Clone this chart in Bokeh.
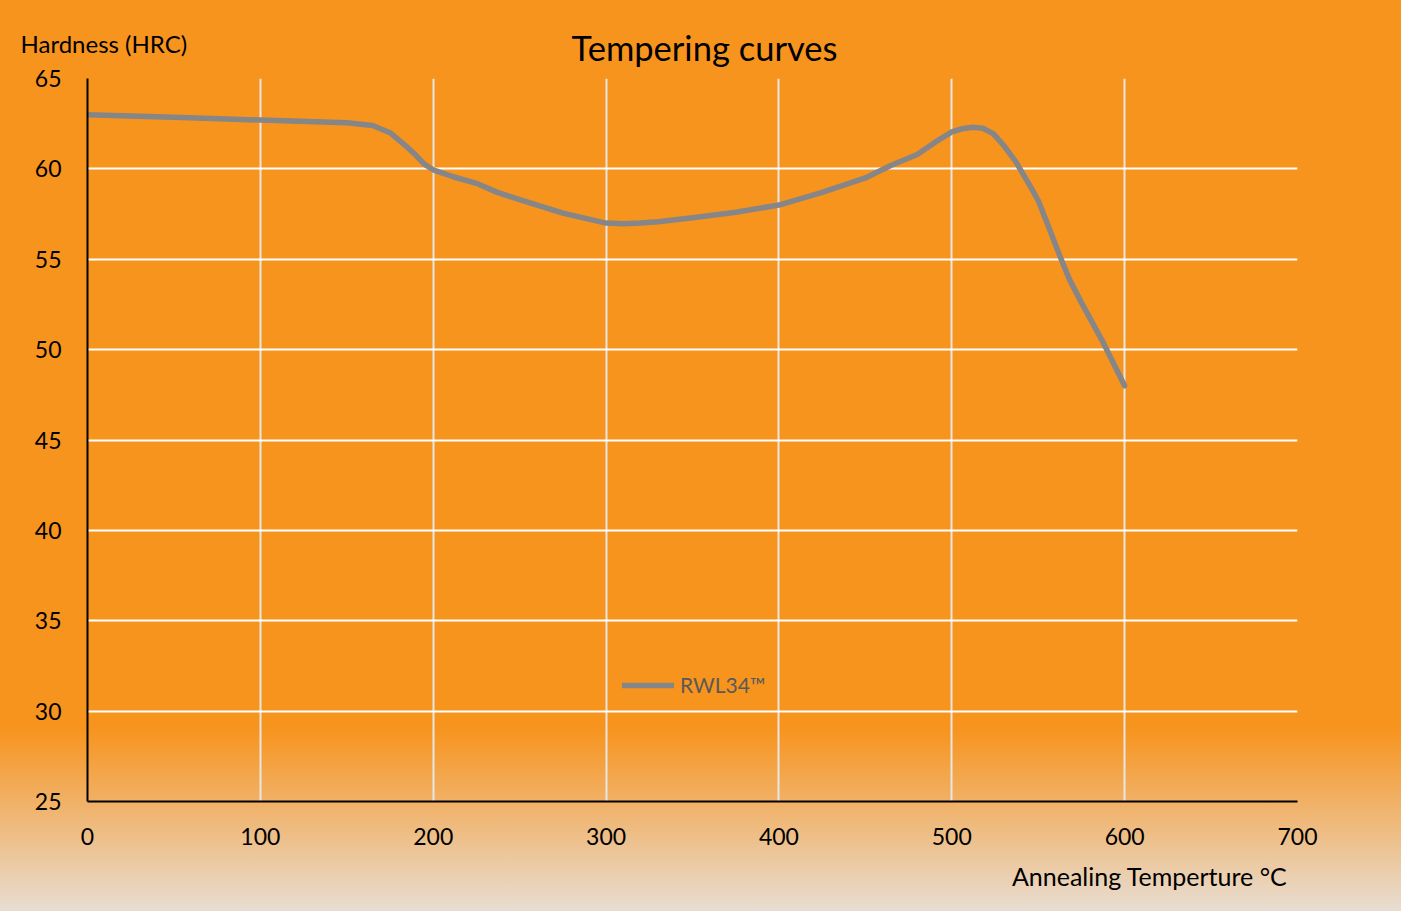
from bokeh.plotting import figure
from bokeh.models import Range1d, FixedTicker, Title
from bokeh.embed import file_html
from bokeh.resources import INLINE

# Data
temperature = [0, 50, 100, 150, 165, 175, 185, 190, 195, 200, 212, 225, 237, 250, 275,
               300, 310, 320, 330, 350, 375, 400, 425, 450, 465, 480, 490, 500, 506,
               512, 518, 524, 530, 537, 545, 550, 556, 562, 568, 575, 587, 600]
hardness = [63.0, 62.85, 62.7, 62.55, 62.4, 62.0, 61.2, 60.75, 60.25, 59.95, 59.55, 59.2,
            58.7, 58.3, 57.55, 57.0, 56.97, 57.0, 57.08, 57.3, 57.6, 58.0, 58.7, 59.5,
            60.2, 60.8, 61.45, 62.05, 62.22, 62.3, 62.25, 61.95, 61.3, 60.4, 59.1, 58.25,
            56.8, 55.3, 53.9, 52.6, 50.5, 48.0]
series_name = "RWL34\u2122"
x_ticks = [0, 100, 200, 300, 400, 500, 600, 700]
y_ticks = [25, 30, 35, 40, 45, 50, 55, 60, 65]

FONT = "Lato"

p = figure(width=1401, height=911, output_backend="svg", toolbar_location=None,
           title=None,
           x_range=Range1d(0, 700), y_range=Range1d(25, 65),
           min_border_left=87, min_border_right=104, min_border_top=78, min_border_bottom=110)
p.styles = {
    "background": "linear-gradient(to bottom, #F7941E 0%, #F7941E 80%, #EFB878 90%, #E8DDD2 100%)",
}
p.background_fill_color = None
p.border_fill_color = None
p.outline_line_color = None

# main title nearest the frame, y-axis caption on the same visual row
p.add_layout(Title(text="Tempering curves", align="left", offset=484, standoff=22,
                   text_font=FONT, text_font_size="34.5px", text_font_style="normal",
                   text_color="black"), "above")
p.add_layout(Title(text="Hardness (HRC)", align="left", offset=-67, standoff=-89,
                   text_font=FONT, text_font_size="24px", text_font_style="normal",
                   text_color="black"), "above")
p.add_layout(Title(text="Annealing Temperture \u00b0C", align="right", offset=10, standoff=23,
                   text_font=FONT, text_font_size="25px", text_font_style="normal",
                   text_color="black"), "below")

for ax in (p.xaxis[0], p.yaxis[0]):
    ax.axis_line_color = "black"
    ax.axis_line_width = 2
    ax.major_tick_line_color = None
    ax.minor_tick_line_color = None
    ax.major_tick_out = 0
    ax.major_tick_in = 0
    ax.major_label_text_font = FONT
    ax.major_label_text_font_size = "23px"
    ax.major_label_text_color = "black"
p.xaxis[0].ticker = FixedTicker(ticks=x_ticks)
p.yaxis[0].ticker = FixedTicker(ticks=y_ticks)
p.xaxis[0].major_label_standoff = 26
p.yaxis[0].major_label_standoff = 26

p.xgrid.grid_line_color = "#E6E6E6"
p.xgrid.grid_line_width = 2
p.ygrid.grid_line_color = "white"
p.ygrid.grid_line_width = 2
p.xgrid.ticker = FixedTicker(ticks=x_ticks)
p.ygrid.ticker = FixedTicker(ticks=y_ticks)

p.line(temperature, hardness, line_color="#868588", line_width=5.5,
       line_cap="round", line_join="round", legend_label=series_name)

lg = p.legend[0]
lg.location = (535, 104)
lg.background_fill_alpha = 0
lg.border_line_alpha = 0
lg.padding = 0
lg.margin = 0
lg.glyph_width = 52
lg.glyph_height = 24
lg.label_height = 24
lg.label_standoff = 6
lg.label_text_font = FONT
lg.label_text_font_size = "21px"
lg.label_text_color = "#595959"

open("out.html", "w").write(file_html(p, INLINE))
